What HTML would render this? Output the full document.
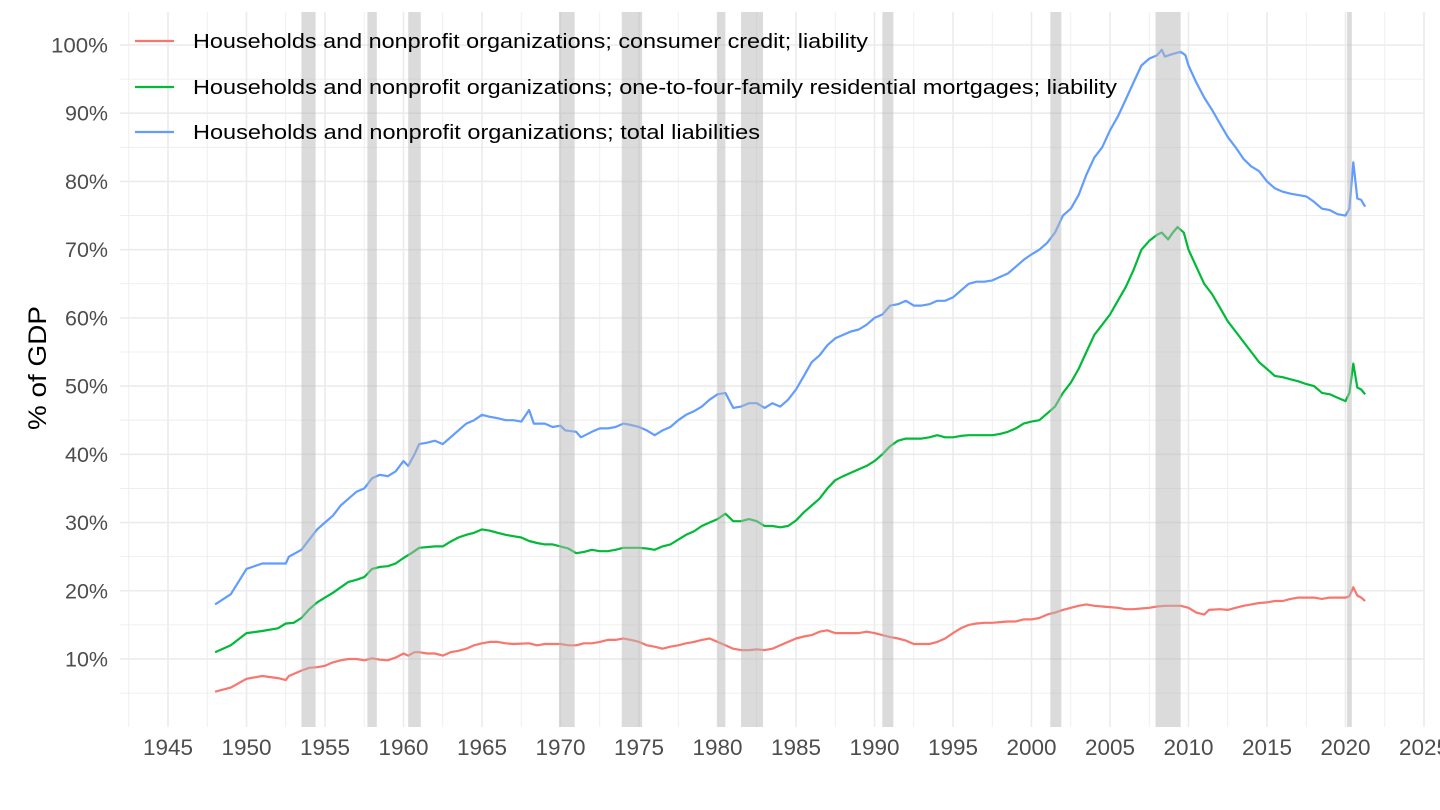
<!DOCTYPE html>
<html><head><meta charset="utf-8"><style>
html,body{margin:0;padding:0;background:#fff;}
svg{display:block;font-family:"Liberation Sans",Arial,sans-serif;}
</style></head><body>
<svg id="s" width="1440" height="810" viewBox="0 0 1440 810" xmlns="http://www.w3.org/2000/svg">
<g id="grid"></g>
<g id="lines"></g>
<g id="bands"></g>
<g id="labels"></g>
<text x="0" y="0" transform="translate(46,368) rotate(-90)" text-anchor="middle" font-size="25" fill="#000" textLength="124" lengthAdjust="spacingAndGlyphs">% of GDP</text>
<g font-size="20" fill="#000">
<line x1="135" y1="41" x2="174" y2="41" stroke="#F8766D" stroke-width="2.2"/>
<text x="193" y="48" textLength="675" lengthAdjust="spacingAndGlyphs">Households and nonprofit organizations; consumer credit; liability</text>
<line x1="135" y1="87" x2="174" y2="87" stroke="#00BA38" stroke-width="2.2"/>
<text x="193" y="94" textLength="924" lengthAdjust="spacingAndGlyphs">Households and nonprofit organizations; one-to-four-family residential mortgages; liability</text>
<line x1="135" y1="132" x2="174" y2="132" stroke="#619CFF" stroke-width="2.2"/>
<text x="193" y="139" textLength="567" lengthAdjust="spacingAndGlyphs">Households and nonprofit organizations; total liabilities</text>
</g>
</svg>
<script>
var NS="http://www.w3.org/2000/svg";
function X(y){return 168+(y-1945)*15.7;}
function Y(v){return 727.2-6.822*v;}
var L=120,R=1425,T=12,B=727;
function el(p,t,a){var e=document.createElementNS(NS,t);for(var k in a)e.setAttribute(k,a[k]);p.appendChild(e);return e;}
var g=document.getElementById('grid'),lb=document.getElementById('labels');
for(var v=5;v<=105;v+=5){var y=Y(v);if(y<T)continue;el(g,'line',{x1:L,x2:R,y1:y,y2:y,stroke:'#ebebeb','stroke-width':v%10==0?1.6:0.8});}
for(var yr=1942.5;yr<=2025;yr+=2.5){var x=X(yr);if(x<L||x>R+1)continue;el(g,'line',{x1:x,x2:x,y1:T,y2:B,stroke:'#ebebeb','stroke-width':yr%5==0?1.6:0.8});}
for(var v=10;v<=100;v+=10){var t=el(lb,'text',{x:108,y:Y(v)+7.5,'text-anchor':'end','font-size':21,fill:'#4d4d4d',textLength:v==100?57:43,lengthAdjust:'spacingAndGlyphs'});t.textContent=v+'%';}
for(var yr=1945;yr<=2025;yr+=5){var t=el(lb,'text',{x:X(yr),y:755,'text-anchor':'middle','font-size':22,fill:'#4d4d4d',textLength:50,lengthAdjust:'spacingAndGlyphs'});t.textContent=yr;}
var bands=[[1953.5,1954.4],[1957.7,1958.3],[1960.3,1961.1],[1969.9,1970.9],[1973.9,1975.2],[1980.0,1980.5],[1981.5,1982.9],[1990.5,1991.2],[2001.2,2001.9],[2007.9,2009.5],[2020.1,2020.4]];
var bg=document.getElementById('bands');
bands.forEach(function(b){el(bg,'rect',{x:X(b[0]),y:T,width:X(b[1])-X(b[0]),height:B-T,fill:'#b8b8b8','fill-opacity':0.5});});
var blue=[1948,18,1949,19.5,1950,23.2,1951,24,1952.5,24,1952.7,25,1953.5,26,1954,27.5,1954.5,29,1955,30,1955.5,31,1956,32.5,1956.5,33.5,1957,34.5,1957.5,35,1958,36.5,1958.5,37,1959,36.8,1959.5,37.5,1960,39,1960.3,38.3,1960.7,40,1961,41.5,1961.5,41.7,1962,42,1962.5,41.5,1963,42.5,1963.5,43.5,1964,44.5,1964.5,45,1965,45.8,1965.5,45.5,1966,45.3,1966.5,45,1967,45,1967.5,44.8,1968,46.5,1968.3,44.5,1969,44.5,1969.5,44,1970,44.2,1970.3,43.5,1971,43.3,1971.3,42.5,1972,43.3,1972.5,43.8,1973,43.8,1973.5,44,1974,44.5,1974.5,44.3,1975,44,1975.5,43.5,1976,42.8,1976.5,43.5,1977,44,1977.5,45,1978,45.8,1978.5,46.3,1979,47,1979.5,48,1980,48.8,1980.5,49,1981,46.8,1981.5,47,1982,47.5,1982.5,47.5,1983,46.8,1983.5,47.5,1984,47,1984.5,48,1985,49.5,1985.5,51.5,1986,53.5,1986.5,54.5,1987,56,1987.5,57,1988,57.5,1988.5,58,1989,58.3,1989.5,59,1990,60,1990.5,60.5,1991,61.8,1991.5,62,1992,62.5,1992.5,61.8,1993,61.8,1993.5,62,1994,62.5,1994.5,62.5,1995,63,1995.5,64,1996,65,1996.5,65.3,1997,65.3,1997.5,65.5,1998,66,1998.5,66.5,1999,67.5,1999.5,68.5,2000,69.3,2000.5,70,2001,71,2001.5,72.5,2002,75,2002.5,76,2003,78,2003.5,81,2004,83.5,2004.5,85,2005,87.5,2005.5,89.5,2006,92,2006.5,94.5,2007,97,2007.5,98,2008,98.5,2008.3,99.3,2008.5,98.3,2009,98.7,2009.5,99,2009.8,98.5,2010,97,2010.5,94.5,2011,92.3,2011.5,90.5,2012,88.5,2012.5,86.5,2013,85,2013.5,83.3,2014,82.2,2014.5,81.5,2015,80,2015.5,79,2016,78.5,2016.5,78.2,2017,78,2017.5,77.8,2018,77,2018.5,76,2019,75.8,2019.5,75.2,2020,75,2020.25,76,2020.5,82.8,2020.75,77.5,2021,77.3,2021.25,76.3];
var green=[1948,11,1949,12,1950,13.8,1951,14.1,1952,14.5,1952.5,15.2,1953,15.3,1953.5,16,1954,17.3,1954.5,18.3,1955,19,1955.5,19.7,1956,20.5,1956.5,21.3,1957,21.6,1957.5,22,1958,23.2,1958.5,23.5,1959,23.6,1959.5,24,1960,24.8,1960.5,25.5,1961,26.3,1962,26.5,1962.5,26.5,1963,27.2,1963.5,27.8,1964,28.2,1964.5,28.5,1965,29,1965.5,28.8,1966,28.5,1966.5,28.2,1967,28,1967.5,27.8,1968,27.3,1968.5,27,1969,26.8,1969.5,26.8,1970,26.5,1970.5,26.2,1971,25.5,1971.5,25.7,1972,26,1972.5,25.8,1973,25.8,1973.5,26,1974,26.3,1974.5,26.3,1975,26.3,1975.5,26.2,1976,26,1976.5,26.5,1977,26.8,1977.5,27.5,1978,28.2,1978.5,28.7,1979,29.5,1979.5,30,1980,30.5,1980.5,31.3,1981,30.2,1981.5,30.2,1982,30.5,1982.5,30.2,1983,29.5,1983.5,29.5,1984,29.3,1984.5,29.5,1985,30.3,1985.5,31.5,1986,32.5,1986.5,33.5,1987,35,1987.5,36.2,1988,36.8,1988.5,37.3,1989,37.8,1989.5,38.3,1990,39,1990.5,40,1991,41.2,1991.5,42,1992,42.3,1992.5,42.3,1993,42.3,1993.5,42.5,1994,42.8,1994.5,42.5,1995,42.5,1995.5,42.7,1996,42.8,1997,42.8,1997.5,42.8,1998,43,1998.5,43.3,1999,43.8,1999.5,44.5,2000,44.8,2000.5,45,2001,46,2001.5,47,2002,49,2002.5,50.5,2003,52.5,2003.5,55,2004,57.5,2004.5,59,2005,60.5,2005.5,62.5,2006,64.5,2006.5,67,2007,70,2007.5,71.3,2008,72.2,2008.3,72.5,2008.7,71.5,2009,72.5,2009.3,73.3,2009.7,72.5,2010,70,2010.5,67.5,2011,65,2011.5,63.5,2012,61.5,2012.5,59.5,2013,58,2013.5,56.5,2014,55,2014.5,53.5,2015,52.5,2015.5,51.5,2016,51.3,2016.5,51,2017,50.7,2017.5,50.3,2018,50,2018.5,49,2019,48.8,2019.5,48.3,2020,47.8,2020.25,49,2020.5,53.3,2020.75,49.8,2021,49.5,2021.25,48.8];
var red=[1948,5.2,1949,5.8,1950,7.1,1951,7.5,1952,7.2,1952.5,6.9,1952.7,7.5,1953,7.8,1953.5,8.3,1954,8.7,1954.5,8.8,1955,9,1955.5,9.5,1956,9.8,1956.5,10,1957,10,1957.5,9.8,1958,10.1,1958.5,9.9,1959,9.8,1959.5,10.2,1960,10.8,1960.3,10.5,1960.7,11,1961,11,1961.5,10.8,1962,10.8,1962.5,10.5,1963,11,1963.5,11.2,1964,11.5,1964.5,12,1965,12.3,1965.5,12.5,1966,12.5,1966.5,12.3,1967,12.2,1968,12.3,1968.5,12,1969,12.2,1970,12.2,1970.5,12,1971,12,1971.5,12.3,1972,12.3,1972.5,12.5,1973,12.8,1973.5,12.8,1974,13,1974.5,12.8,1975,12.5,1975.5,12,1976,11.8,1976.5,11.5,1977,11.8,1977.5,12,1978,12.3,1978.5,12.5,1979,12.8,1979.5,13,1980,12.5,1980.5,12,1981,11.5,1981.5,11.3,1982,11.3,1982.5,11.4,1983,11.3,1983.5,11.5,1984,12,1984.5,12.5,1985,13,1985.5,13.3,1986,13.5,1986.5,14,1987,14.2,1987.5,13.8,1988,13.8,1989,13.8,1989.5,14,1990,13.8,1990.5,13.5,1991,13.2,1991.5,13,1992,12.7,1992.5,12.2,1993,12.2,1993.5,12.2,1994,12.5,1994.5,13,1995,13.8,1995.5,14.5,1996,15,1996.5,15.2,1997,15.3,1997.5,15.3,1998,15.4,1998.5,15.5,1999,15.5,1999.5,15.8,2000,15.8,2000.5,16,2001,16.5,2001.5,16.8,2002,17.2,2002.5,17.5,2003,17.8,2003.5,18,2004,17.8,2004.5,17.7,2005,17.6,2005.5,17.5,2006,17.3,2006.5,17.3,2007,17.4,2007.5,17.5,2008,17.7,2008.5,17.8,2009,17.8,2009.5,17.8,2010,17.5,2010.5,16.8,2011,16.5,2011.3,17.2,2012,17.3,2012.5,17.2,2013,17.5,2013.5,17.8,2014,18,2014.5,18.2,2015,18.3,2015.5,18.5,2016,18.5,2016.5,18.8,2017,19,2017.5,19,2018,19,2018.5,18.8,2019,19,2019.5,19,2020,19,2020.25,19.2,2020.5,20.5,2020.75,19.3,2021,19,2021.25,18.5];
var lg=document.getElementById('lines');
function draw(d,c){var p=[];for(var i=0;i<d.length;i+=2)p.push(X(d[i]).toFixed(1)+','+Y(d[i+1]).toFixed(1));el(lg,'polyline',{points:p.join(' '),fill:'none',stroke:c,'stroke-width':2.2,'stroke-linejoin':'round'});}
draw(red,'#F8766D');draw(green,'#00BA38');draw(blue,'#619CFF');
</script>
</body></html>
